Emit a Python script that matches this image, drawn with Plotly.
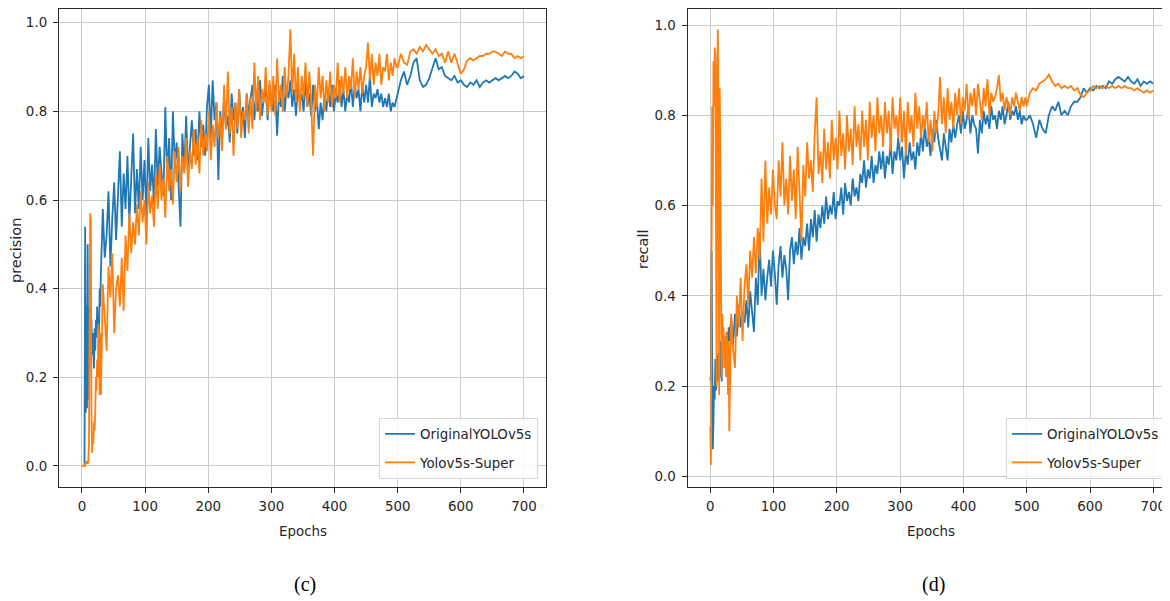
import plotly.graph_objects as go

# ---------------- data ----------------
EPOCHS = list(range(0, 30)) + list(range(30, 500, 3)) + list(range(500, 701, 5))

SERIES_NAMES = ["OriginalYOLOv5s", "Yolov5s-Super"]

PRECISION_ORIG = [
    # epochs 0-29
    0, 0, 0, 0, 0, 0.54, 0.12, 0.36, 0.13, 0.50, 0.15, 0.36, 0.32, 0.36, 0.28,
    0.33, 0.25, 0.30, 0.27, 0.22, 0.31, 0.26, 0.33, 0.29, 0.36, 0.31, 0.34, 0.30, 0.40, 0.36,
    # epochs 30-498, every 3
    0.44, 0.58, 0.47, 0.52, 0.62, 0.45, 0.56, 0.64, 0.51, 0.60,
    0.71, 0.54, 0.66, 0.58, 0.70, 0.55, 0.64, 0.75, 0.57, 0.67,
    0.58, 0.72, 0.60, 0.69, 0.56, 0.74, 0.62, 0.68, 0.59, 0.76,
    0.63, 0.72, 0.66, 0.61, 0.81, 0.65, 0.74, 0.60, 0.80, 0.68,
    0.73, 0.62, 0.54, 0.75, 0.67, 0.79, 0.66, 0.72, 0.78, 0.70,
    0.76, 0.69, 0.80, 0.72, 0.77, 0.70, 0.81, 0.86, 0.74, 0.87,
    0.78, 0.82, 0.645, 0.80, 0.74, 0.83, 0.76, 0.79, 0.73, 0.84,
    0.78, 0.82, 0.75, 0.85, 0.77, 0.81, 0.74, 0.84, 0.79, 0.83,
    0.86, 0.78, 0.84, 0.80, 0.87, 0.79, 0.83, 0.85, 0.78, 0.86,
    0.82, 0.80, 0.86, 0.745, 0.84, 0.81, 0.88, 0.80, 0.85, 0.83,
    0.87, 0.81, 0.85, 0.79, 0.86, 0.82, 0.84, 0.80, 0.87, 0.81,
    0.84, 0.79, 0.86, 0.80, 0.83, 0.76, 0.82, 0.78, 0.84, 0.80,
    0.85, 0.81, 0.86, 0.80, 0.84, 0.82, 0.87, 0.81, 0.85, 0.80,
    0.84, 0.82, 0.87, 0.81, 0.86, 0.83, 0.85, 0.80, 0.86, 0.82,
    0.86, 0.82, 0.88, 0.81, 0.84, 0.83, 0.85, 0.82, 0.84, 0.81,
    0.83, 0.81, 0.84, 0.80, 0.82, 0.81, 0.83,
    # epochs 500-700, every 5
    0.84, 0.87, 0.89, 0.86, 0.88, 0.91, 0.92, 0.87, 0.855, 0.86,
    0.875, 0.90, 0.92, 0.895, 0.90, 0.88, 0.875, 0.87, 0.88, 0.865,
    0.87, 0.86, 0.855, 0.865, 0.86, 0.87, 0.855, 0.865, 0.87, 0.865,
    0.87, 0.875, 0.87, 0.875, 0.88, 0.875, 0.88, 0.89, 0.885, 0.875,
    0.88,
]

PRECISION_SUPER = [
    0, 0, 0, 0, 0, 0.005, 0.005, 0.01, 0.01, 0.005, 0.01, 0.05, 0.30, 0.57, 0.55,
    0.12, 0.03, 0.06, 0.05, 0.10, 0.08, 0.12, 0.20, 0.17, 0.24, 0.20, 0.32, 0.26, 0.16, 0.30,
    0.16, 0.41, 0.33, 0.26, 0.45, 0.38, 0.48, 0.30, 0.40, 0.43,
    0.36, 0.47, 0.35, 0.52, 0.44, 0.57, 0.48, 0.55, 0.50, 0.59,
    0.52, 0.62, 0.55, 0.60, 0.50, 0.64, 0.57, 0.61, 0.54, 0.66,
    0.58, 0.68, 0.60, 0.65, 0.56, 0.70, 0.62, 0.67, 0.59, 0.71,
    0.64, 0.72, 0.62, 0.70, 0.66, 0.74, 0.63, 0.71, 0.67, 0.76,
    0.68, 0.74, 0.66, 0.78, 0.70, 0.75, 0.71, 0.80, 0.69, 0.77,
    0.72, 0.82, 0.74, 0.79, 0.71, 0.86, 0.76, 0.89, 0.75, 0.81,
    0.70, 0.82, 0.76, 0.85, 0.74, 0.80, 0.78, 0.84, 0.75, 0.83,
    0.76, 0.91, 0.80, 0.88, 0.78, 0.85, 0.82, 0.90, 0.79, 0.87,
    0.80, 0.88, 0.79, 0.92, 0.82, 0.86, 0.80, 0.90, 0.83, 0.88,
    0.985, 0.84, 0.93, 0.82, 0.90, 0.80, 0.88, 0.83, 0.91, 0.81,
    0.89, 0.82, 0.70, 0.86, 0.81, 0.90, 0.83, 0.88, 0.80, 0.87,
    0.82, 0.89, 0.81, 0.86, 0.83, 0.91, 0.82, 0.88, 0.84, 0.90,
    0.83, 0.88, 0.85, 0.92, 0.83, 0.89, 0.85, 0.90, 0.84, 0.88,
    0.90, 0.955, 0.87, 0.93, 0.86, 0.91, 0.88, 0.93, 0.86, 0.90,
    0.89, 0.93, 0.87, 0.91, 0.88, 0.92, 0.90,
    0.90, 0.93, 0.91, 0.905, 0.935, 0.94, 0.93, 0.945, 0.935, 0.95,
    0.94, 0.93, 0.94, 0.925, 0.93, 0.91, 0.935, 0.91, 0.93, 0.905,
    0.885, 0.895, 0.915, 0.92, 0.915, 0.92, 0.925, 0.925, 0.93, 0.93,
    0.935, 0.935, 0.93, 0.925, 0.935, 0.93, 0.93, 0.92, 0.925, 0.92,
    0.925,
]

RECALL_ORIG = [
    0.22, 0.21, 0.50, 0.15, 0.06, 0.12, 0.20, 0.17, 0.26, 0.19, 0.22, 0.27, 0.21, 0.25, 0.28,
    0.22, 0.30, 0.25, 0.21, 0.29, 0.33, 0.28, 0.31, 0.27, 0.30, 0.29, 0.32, 0.30, 0.28, 0.33,
    0.30, 0.35, 0.29, 0.36, 0.31, 0.38, 0.33, 0.36, 0.34, 0.39,
    0.33, 0.41, 0.36, 0.32, 0.44, 0.38, 0.54, 0.40, 0.46, 0.39,
    0.44, 0.48, 0.42, 0.50, 0.45, 0.38, 0.47, 0.51, 0.44, 0.49,
    0.46, 0.39, 0.50, 0.53, 0.47, 0.52, 0.49, 0.55, 0.48, 0.53,
    0.51, 0.56, 0.50, 0.57, 0.53, 0.59, 0.52, 0.58, 0.55, 0.60,
    0.56, 0.62, 0.57, 0.60, 0.58, 0.63, 0.57, 0.61, 0.60, 0.64,
    0.58, 0.65, 0.61, 0.63, 0.60, 0.66, 0.62, 0.64, 0.61, 0.67,
    0.65, 0.70, 0.64, 0.68, 0.66, 0.71, 0.65, 0.69, 0.67, 0.72,
    0.68, 0.72, 0.66, 0.71, 0.69, 0.74, 0.67, 0.72, 0.70, 0.75,
    0.70, 0.73, 0.66, 0.72, 0.69, 0.74, 0.70, 0.72, 0.68, 0.74,
    0.71, 0.76, 0.72, 0.78, 0.73, 0.75, 0.71, 0.77, 0.74, 0.79,
    0.75, 0.72, 0.70, 0.76, 0.73, 0.70, 0.77, 0.74, 0.78, 0.75,
    0.78, 0.80, 0.76, 0.81, 0.77, 0.79, 0.82, 0.76, 0.80, 0.78,
    0.77, 0.715, 0.79, 0.76, 0.81, 0.78, 0.80, 0.77, 0.82, 0.79,
    0.80, 0.77, 0.81, 0.79, 0.82, 0.78, 0.80, 0.83, 0.79, 0.81,
    0.80, 0.82, 0.79, 0.81, 0.78, 0.80, 0.79,
    0.79, 0.80, 0.78, 0.75, 0.79, 0.77, 0.76, 0.80, 0.82, 0.81,
    0.83, 0.80, 0.81, 0.80, 0.82, 0.83, 0.83, 0.84, 0.86, 0.85,
    0.86, 0.855, 0.865, 0.86, 0.865, 0.86, 0.875, 0.87, 0.88, 0.885,
    0.88, 0.875, 0.885, 0.875, 0.87, 0.88, 0.865, 0.875, 0.87, 0.875,
    0.87,
]

RECALL_SUPER = [
    0.11, 0.025, 0.50, 0.82, 0.60, 0.92, 0.82, 0.95, 0.93, 0.55, 0.20, 0.90, 0.99, 0.72, 0.18,
    0.86, 0.66, 0.30, 0.22, 0.36, 0.27, 0.33, 0.24, 0.31, 0.29, 0.22, 0.32, 0.25, 0.18, 0.30,
    0.10, 0.36, 0.28, 0.24, 0.40, 0.33, 0.44, 0.30, 0.42, 0.47,
    0.38, 0.50, 0.44, 0.53, 0.45, 0.55, 0.48, 0.66, 0.52, 0.70,
    0.56, 0.64, 0.58, 0.68, 0.60, 0.57, 0.70, 0.62, 0.74, 0.60,
    0.66, 0.58, 0.71, 0.61, 0.68, 0.57, 0.73, 0.63, 0.52, 0.69,
    0.62, 0.74, 0.66, 0.70, 0.63, 0.76, 0.84, 0.67, 0.72, 0.65,
    0.77, 0.68, 0.74, 0.66, 0.79, 0.70, 0.75, 0.68, 0.81, 0.71,
    0.76, 0.68, 0.80, 0.72, 0.77, 0.69, 0.82, 0.73, 0.78, 0.70,
    0.81, 0.73, 0.79, 0.70, 0.83, 0.75, 0.80, 0.72, 0.84, 0.76,
    0.80, 0.73, 0.83, 0.76, 0.81, 0.72, 0.84, 0.77, 0.80, 0.75,
    0.84, 0.74, 0.81, 0.71, 0.83, 0.76, 0.80, 0.73, 0.85, 0.77,
    0.82, 0.75, 0.80, 0.77, 0.83, 0.74, 0.79, 0.72, 0.81, 0.76,
    0.80, 0.885, 0.78, 0.84, 0.76, 0.86, 0.79, 0.83, 0.77, 0.85,
    0.80, 0.86, 0.78, 0.84, 0.81, 0.87, 0.79, 0.85, 0.82, 0.86,
    0.80, 0.87, 0.83, 0.79, 0.86, 0.82, 0.88, 0.80, 0.85, 0.83,
    0.84, 0.86, 0.889, 0.83, 0.85, 0.81, 0.84, 0.82, 0.80, 0.84,
    0.82, 0.85, 0.83, 0.81, 0.84, 0.82, 0.84,
    0.82, 0.85, 0.86, 0.855, 0.87, 0.875, 0.88, 0.89, 0.875, 0.865,
    0.87, 0.86, 0.865, 0.86, 0.865, 0.855, 0.86, 0.845, 0.84, 0.85,
    0.855, 0.865, 0.86, 0.865, 0.86, 0.865, 0.86, 0.865, 0.86, 0.865,
    0.86, 0.865, 0.86, 0.86, 0.855, 0.86, 0.855, 0.85, 0.855, 0.85,
    0.855,
]

X_TICKS = [0, 100, 200, 300, 400, 500, 600, 700]
Y_TICKS = [0.0, 0.2, 0.4, 0.6, 0.8, 1.0]
Y_TITLES = ["precision", "recall"]
PANEL_LABELS = ["(c)", "(d)"]

for arr in (PRECISION_ORIG, PRECISION_SUPER, RECALL_ORIG, RECALL_SUPER):
    assert len(arr) == len(EPOCHS), len(arr)

# ---------------- styling ----------------
# the page body has an 8px margin, so the figure is 8px smaller than the window
OFF = 8
W, H = 1170 - OFF, 601 - OFF
BLUE = "#1f77b4"
ORANGE = "#ff7f0e"
TXT = "#262626"
FONT = "DejaVu Sans"
GRID = "#cbcbcb"
FRAME = "#2a2a2a"


def px_x(p):  # page pixel -> paper x
    return (p - OFF) / W


def px_y(p):  # page pixel -> paper y
    return (601 - p) / H


fig = go.Figure()

panels = [
    dict(xa="x", ya="y", leg="legend", data=(PRECISION_ORIG, PRECISION_SUPER)),
    dict(xa="x2", ya="y2", leg="legend2", data=(RECALL_ORIG, RECALL_SUPER)),
]
for pi, p in enumerate(panels):
    for si, (vals, col) in enumerate(zip(p["data"], (BLUE, ORANGE))):
        fig.add_trace(go.Scatter(
            x=EPOCHS, y=vals, mode="lines", name=SERIES_NAMES[si],
            line=dict(color=col, width=1.8),
            xaxis=p["xa"], yaxis=p["ya"], legend=p["leg"],
            legendgroup=f"g{pi}{si}",
        ))

axis_common = dict(
    showline=True, linecolor=FRAME, linewidth=1.3,
    showgrid=True, gridcolor=GRID, gridwidth=1.2,
    zeroline=False, ticks="outside", ticklen=5, tickwidth=1.1, tickcolor=FRAME,
    tickfont=dict(family=FONT, size=13.4, color=TXT),
)

leg_common = dict(
    xanchor="left", yanchor="top",
    bgcolor="rgba(255,255,255,0.85)", bordercolor="#d6d6d6", borderwidth=1,
    font=dict(family=FONT, size=13.4, color=TXT),
    tracegroupgap=8, itemwidth=30, traceorder="grouped",
)

fig.update_layout(
    width=W, height=H,
    margin=dict(l=0, r=0, t=0, b=0, autoexpand=False),
    paper_bgcolor="white", plot_bgcolor="white",
    showlegend=True,
    xaxis=dict(domain=[px_x(59), px_x(546)], range=[-36.4, 734.9],
               tickvals=X_TICKS, anchor="y", mirror=True, ticklabelstandoff=2,
               **axis_common),
    yaxis=dict(domain=[px_y(487), px_y(9)], range=[-0.0474, 1.031],
               tickvals=Y_TICKS, tickformat=".1f", anchor="x", mirror=True,
               ticklabelstandoff=3, **axis_common),
    xaxis2=dict(domain=[px_x(687.7), 1.0], range=[-35.7, 726.4],
                tickvals=X_TICKS, anchor="y2", mirror=True, ticklabelstandoff=2,
                **axis_common),
    yaxis2=dict(domain=[px_y(486.7), px_y(9)], range=[-0.023, 1.0355],
                tickvals=Y_TICKS, tickformat=".1f", anchor="x2", mirror=False,
                ticklabelstandoff=3, **axis_common),
    legend=dict(x=px_x(379), y=px_y(417.7), **leg_common),
    legend2=dict(x=px_x(1006), y=px_y(417.7), **leg_common),
)

annots = []
for cx in (302.5, 931):
    annots.append(dict(text="Epochs", x=px_x(cx), y=px_y(531.5), xref="paper", yref="paper",
                       showarrow=False, xanchor="center", yanchor="middle",
                       font=dict(family=FONT, size=13.4, color=TXT)))
for cx, cy, t in ((16, 251, Y_TITLES[0]), (643, 250, Y_TITLES[1])):
    annots.append(dict(text=t, x=px_x(cx), y=px_y(cy), xref="paper", yref="paper",
                       showarrow=False, textangle=-90, xanchor="center", yanchor="middle",
                       font=dict(family=FONT, size=14.5, color=TXT)))
for cx, t in ((305, PANEL_LABELS[0]), (933.5, PANEL_LABELS[1])):
    annots.append(dict(text=t, x=px_x(cx), y=px_y(584), xref="paper", yref="paper",
                       showarrow=False, xanchor="center", yanchor="middle",
                       font=dict(family="Liberation Serif", size=20, color="#000000")))
fig.update_layout(annotations=annots)

fig.write_html("out.html")
